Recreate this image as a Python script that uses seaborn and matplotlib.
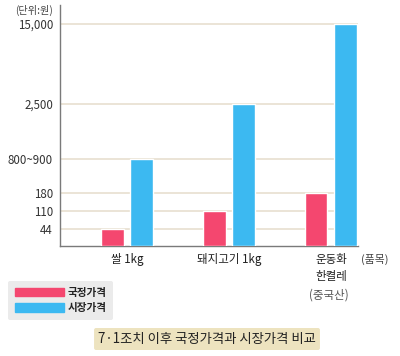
import numpy as np
import pandas as pd
import seaborn as sns
import matplotlib.pyplot as plt
from matplotlib.patches import Patch

sns.set_style('white')
plt.rcParams['font.family'] = ['Noto Sans CJK KR', 'DejaVu Sans']

# data (unit: won)
items = ['쌀 1kg', '돼지고기 1kg', '운동화\n한켤레']
official = [44, 110, 180]
market = [850, 2500, 15000]   # 쌀 시장가격 is "800~900"
series = ['국정가격', '시장가격']
tick_vals = [44, 110, 180, 850, 2500, 15000]
tick_labels = ['44', '110', '180', '800~900', '2,500', '15,000']

red = '#f4476f'
blue = '#3cb9f1'

df = pd.DataFrame({
    'item': items * 2,
    'price': official + market,
    'type': [series[0]] * 3 + [series[1]] * 3,
})

# the original uses an uneven (pictorial) value axis -> piecewise scale
anchor_v = np.array([0, 44, 110, 180, 850, 2500, 15000, 18000])
anchor_p = np.array([0, 17, 35, 53, 87, 142, 222, 241])
def fwd(v):
    return np.interp(v, anchor_v, anchor_p)
def inv(p):
    return np.interp(p, anchor_p, anchor_v)

fig = plt.figure(figsize=(4, 3.56), dpi=100)
ax = fig.add_axes([60/400, 1-246/356, 298/400, 241/356])

sns.barplot(data=df, x='item', y='price', hue='type', palette=[red, blue],
            width=0.57, gap=0.24, saturation=1, ax=ax, legend=False, zorder=3)

ax.set_yscale('function', functions=(fwd, inv))
ax.set_ylim(0, 18000)
ax.set_xlim(-0.657, 2.265)
ax.set_yticks(tick_vals)
ax.set_yticklabels(tick_labels)
ax.yaxis.grid(True, color='#e8dfcf', lw=1.2)
ax.set_axisbelow(True)
ax.tick_params(axis='y', length=0, pad=5, labelsize=8.3, labelcolor='#333333')
ax.tick_params(axis='x', length=0, pad=5, labelsize=8.3, labelcolor='#222222')
for t in ax.get_xticklabels():
    t.set_linespacing(1.4)
ax.set_xlabel(None)
ax.set_ylabel(None)
for s in ['top', 'right']:
    ax.spines[s].set_visible(False)
for s in ['left', 'bottom']:
    ax.spines[s].set_color('#7a7a7a')
    ax.spines[s].set_linewidth(1)

fig.text(53/400, 1-10/356, '(단위:원)', ha='right', va='center', fontsize=7.3, color='#444444')
fig.text(375/400, 1-259/356, '(품목)', ha='center', va='center', fontsize=7.8, color='#444444')
fig.text(329/400, 1-295/356, '(중국산)', ha='center', va='center', fontsize=8.3, color='#555555')

handles = [Patch(color=red, label=series[0]), Patch(color=blue, label=series[1])]
leg = fig.legend(handles=handles, loc='upper left', bbox_to_anchor=(8/400, 1-281/356),
                 frameon=True, fontsize=7.6, handlelength=4.7, handleheight=0.8,
                 handletextpad=0.3, labelspacing=0.5, borderpad=0.65, borderaxespad=0)
leg.get_frame().set_facecolor('#e6e6e6')
leg.get_frame().set_edgecolor('none')
for t in leg.get_texts():
    t.set_color('#222222')
    t.set_fontweight('bold')

fig.text(207/400, 1-339/356, '7·1조치 이후 국정가격과 시장가격 비교', ha='center', va='center',
         fontsize=9.6, color='#222222',
         bbox=dict(boxstyle='round,pad=0.3,rounding_size=0.15', fc='#ede3bf', ec='none'))

fig.savefig('out.png', dpi=100)
